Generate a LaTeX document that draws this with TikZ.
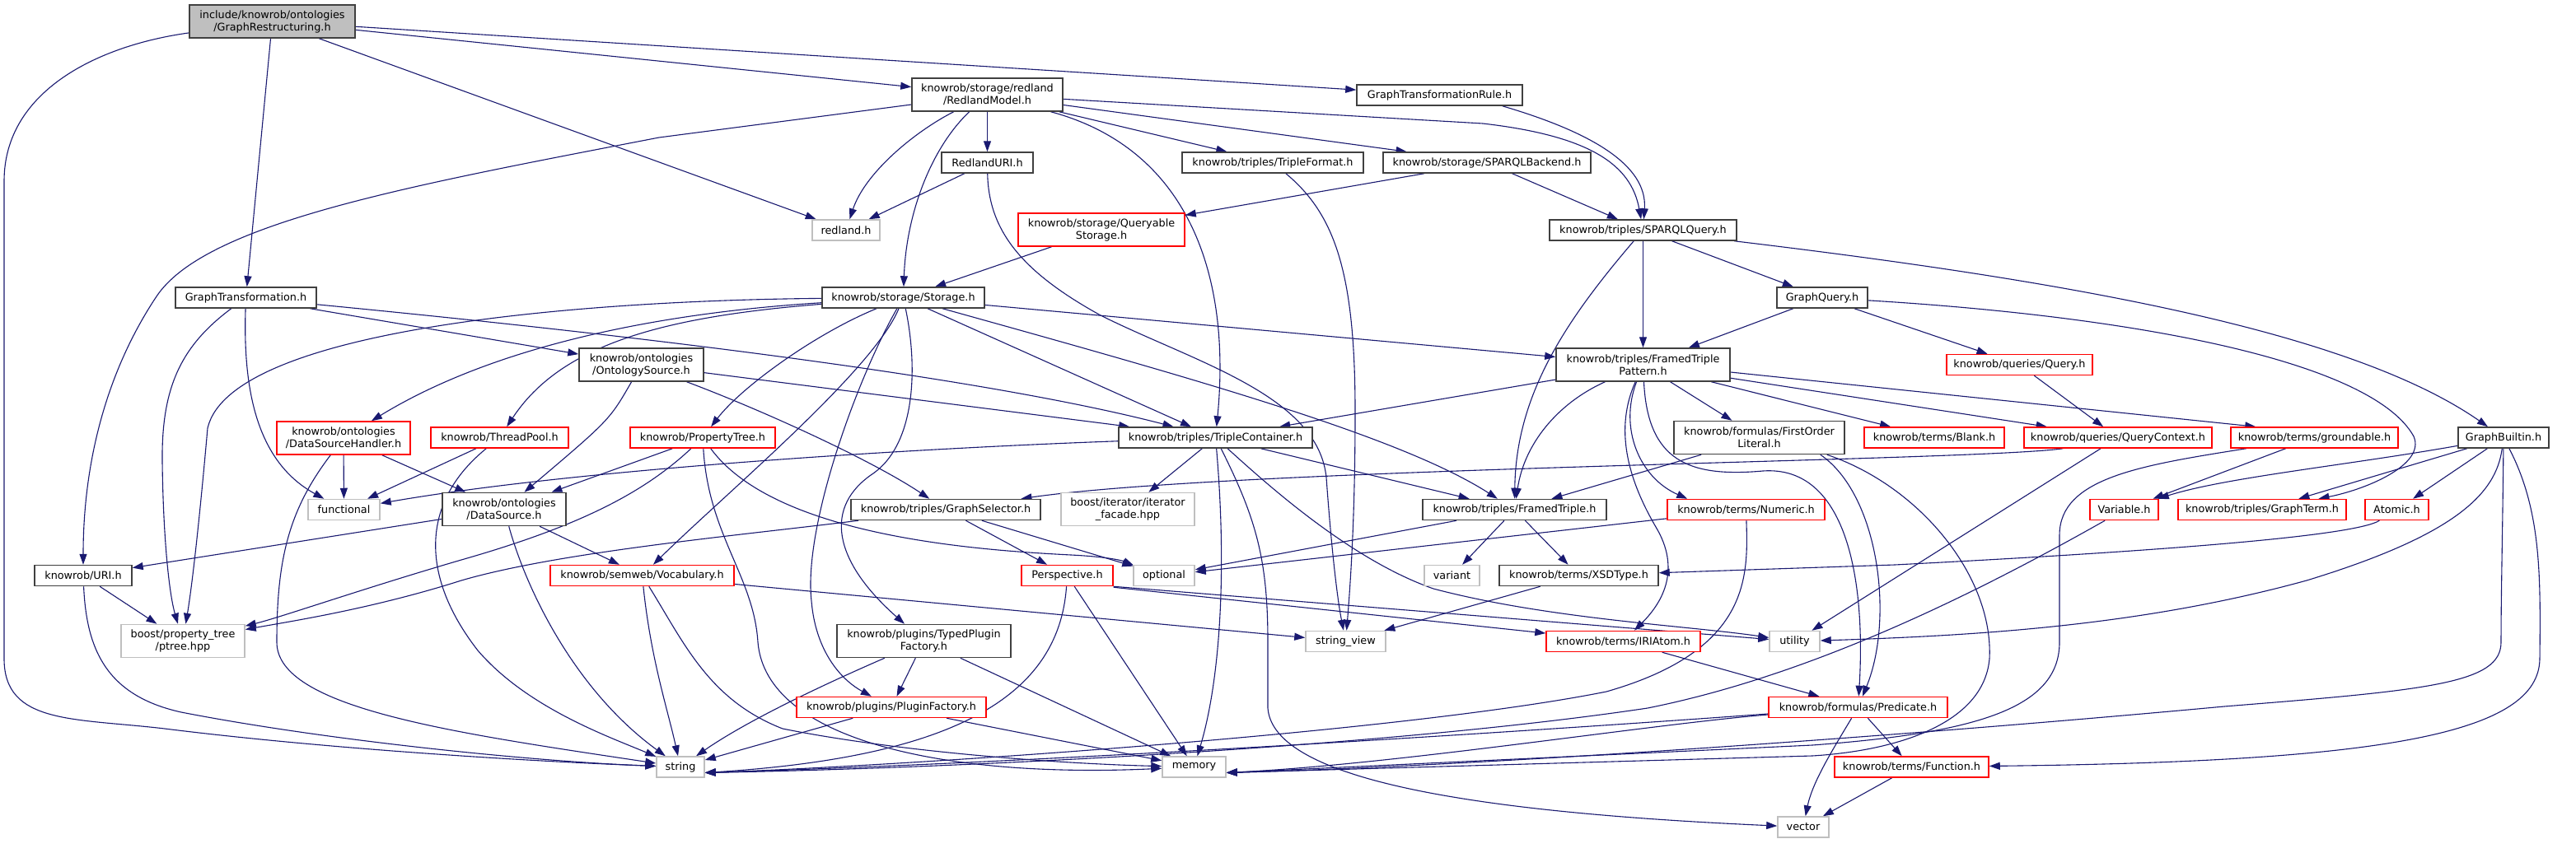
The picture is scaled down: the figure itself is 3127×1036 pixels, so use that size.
\documentclass[tikz,border=0pt]{standalone}
\usepackage{fontspec}
\setmainfont{DejaVu Sans}
\usetikzlibrary{arrows.meta,calc}
\definecolor{edgeblue}{HTML}{191970}
\definecolor{boxblack}{HTML}{404040}
\definecolor{boxgray}{HTML}{BFBFBF}
\definecolor{boxred}{HTML}{FF0000}
\pgfdeclarelayer{paper}
\pgfdeclarelayer{background}
\pgfsetlayers{paper,background,main}
\begin{document}
\begin{tikzpicture}[x=1pt,y=-1pt,
  box/.style={draw=boxblack, line width=1.5pt, fill=white, inner sep=0pt, minimum height=25pt, align=center, font={\fontsize{12.8}{15}\selectfont}, text=black},
  rbox/.style={box, draw=boxred},
  gbox/.style={box, draw=boxgray},
  rootbox/.style={box, fill=boxgray},
  tall/.style={minimum height=40pt},
  link/.style={draw=edgeblue, line width=1.1pt, -{Triangle[length=13pt,width=9pt]}}]
\begin{pgfonlayer}{paper}
\fill[white] (0,0) rectangle (3127,1036);
\end{pgfonlayer}
\useasboundingbox (0,0) rectangle (3127,1036);
% nodes
\node[rootbox,tall,minimum width=201pt] (root) at (330.5,26) {include/knowrob/ontologies\\/GraphRestructuring.h};
\node[box,tall,minimum width=183pt] (rm) at (1198.5,115) {knowrob/storage/redland\\/RedlandModel.h};
\node[box,minimum width=201pt] (gtr) at (1747.5,115.5) {GraphTransformationRule.h};
\node[box,minimum width=111pt] (ruri) at (1198.5,197.5) {RedlandURI.h};
\node[box,minimum width=220pt] (tf) at (1545,197.5) {knowrob/triples/TripleFormat.h};
\node[box,minimum width=252pt] (sb) at (1805,197.5) {knowrob/storage/SPARQLBackend.h};
\node[gbox,minimum width=82pt] (redland) at (1027,279.5) {redland.h};
\node[rbox,tall,minimum width=202pt] (qs) at (1337,279) {knowrob/storage/Queryable\\Storage.h};
\node[box,minimum width=227pt] (sq) at (1994.5,279.5) {knowrob/triples/SPARQLQuery.h};
\node[box,minimum width=171pt] (gt) at (298.5,361.5) {GraphTransformation.h};
\node[box,minimum width=197pt] (st) at (1096.5,361.5) {knowrob/storage/Storage.h};
\node[box,minimum width=110pt] (gq) at (2212,361.5) {GraphQuery.h};
\node[box,tall,minimum width=151pt] (os) at (778.5,443) {knowrob/ontologies\\/OntologySource.h};
\node[box,tall,minimum width=211pt] (ftp) at (1994.5,443) {knowrob/triples/FramedTriple\\Pattern.h};
\node[rbox,minimum width=177pt] (q) at (2451.5,443) {knowrob/queries/Query.h};
\node[rbox,tall,minimum width=162pt] (dsh) at (417,532) {knowrob/ontologies\\/DataSourceHandler.h};
\node[rbox,minimum width=167pt] (tp) at (606.5,531.5) {knowrob/ThreadPool.h};
\node[rbox,minimum width=176pt] (pt) at (853,531.5) {knowrob/PropertyTree.h};
\node[box,minimum width=235pt] (tc) at (1475.5,531.5) {knowrob/triples/TripleContainer.h};
\node[box,tall,minimum width=207pt] (fol) at (2135.5,531.5) {knowrob/formulas/FirstOrder\\Literal.h};
\node[rbox,minimum width=170pt] (blank) at (2348,531.5) {knowrob/terms/Blank.h};
\node[rbox,minimum width=228pt] (qc) at (2571,531.5) {knowrob/queries/QueryContext.h};
\node[rbox,minimum width=203pt] (gr) at (2809.5,531.5) {knowrob/terms/groundable.h};
\node[box,minimum width=110pt] (gb) at (3039,531.5) {GraphBuiltin.h};
\node[gbox,minimum width=87pt] (func) at (417.5,619) {functional};
\node[box,tall,minimum width=150pt] (ds) at (612,618.5) {knowrob/ontologies\\/DataSource.h};
\node[box,minimum width=230pt] (gs) at (1148,619) {knowrob/triples/GraphSelector.h};
\node[gbox,tall,minimum width=162pt] (itf) at (1369,618.5) {boost/iterator/iterator\\\_facade.hpp};
\node[box,minimum width=223pt] (ft) at (1838.5,619) {knowrob/triples/FramedTriple.h};
\node[rbox,minimum width=191pt] (num) at (2119.5,619) {knowrob/terms/Numeric.h};
\node[rbox,minimum width=83pt] (var) at (2578.5,619) {Variable.h};
\node[rbox,minimum width=204pt] (gterm) at (2746,619) {knowrob/triples/GraphTerm.h};
\node[rbox,minimum width=77pt] (atomic) at (2909.5,619) {Atomic.h};
\node[box,minimum width=118pt] (uri) at (101,699) {knowrob/URI.h};
\node[rbox,minimum width=223pt] (voc) at (779.5,699) {knowrob/semweb/Vocabulary.h};
\node[rbox,minimum width=111pt] (persp) at (1295.5,699) {Perspective.h};
\node[gbox,minimum width=74pt] (opt) at (1413,699) {optional};
\node[gbox,minimum width=67pt] (variant) at (1762.5,699) {variant};
\node[box,minimum width=193pt] (xsd) at (1916.5,699) {knowrob/terms/XSDType.h};
\node[gbox,tall,minimum width=150pt] (ptree) at (222,778.5) {boost/property\_tree\\/ptree.hpp};
\node[box,tall,minimum width=211pt] (tpf) at (1121.5,778.5) {knowrob/plugins/TypedPlugin\\Factory.h};
\node[gbox,minimum width=97pt] (sv) at (1633.5,779) {string\_view};
\node[rbox,minimum width=187pt] (iri) at (1970.5,779) {knowrob/terms/IRIAtom.h};
\node[gbox,minimum width=61pt] (util) at (2178.5,779) {utility};
\node[rbox,minimum width=230pt] (pf) at (1082,859) {knowrob/plugins/PluginFactory.h};
\node[rbox,minimum width=217pt] (pred) at (2255.5,859) {knowrob/formulas/Predicate.h};
\node[gbox,minimum width=58pt] (string) at (826,931.5) {string};
\node[gbox,minimum width=77pt] (memory) at (1449.5,931.5) {memory};
\node[rbox,minimum width=187pt] (funch) at (2320.5,931.5) {knowrob/terms/Function.h};
\node[gbox,minimum width=62pt] (vector) at (2189,1004.5) {vector};
\coordinate (memR) at ($(memory.east)+(0,7)$);
\coordinate (strR) at ($(string.east)+(0,7)$);
% edges
\begin{pgfonlayer}{background}
\draw[link] (root) .. controls (120,55) and (5,110) .. (5,220) -- (5,800) .. controls (5,880) and (90,872) .. (200,885) .. controls (400,910) and (650,925) .. (string);
\draw[link] (root) -- (gt);
\draw[link] (root) -- (redland);
\draw[link] (root) -- (rm);
\draw[link] (root) -- (gtr);
\draw[link] (rm) -- (800,167) .. controls (500,225) and (250,270) .. (190,360) .. controls (130,450) and (101,560) .. (uri);
\draw[link] (rm) .. controls (1110,160) and (1050,210) .. (redland);
\draw[link] (rm) .. controls (1130,180) and (1100,260) .. (st);
\draw[link] (rm) -- (ruri);
\draw[link] (rm) .. controls (1440,180) and (1495,330) .. (tc);
\draw[link] (rm) -- (tf);
\draw[link] (rm) -- (sb);
\draw[link] (rm) -- (1800,150) .. controls (1930,165) and (1980,200) .. (sq);
\draw[link] ($(gtr.south east)+(-25,0)$) .. controls (1930,160) and (2000,200) .. (sq);
\draw[link] (ruri) -- (redland);
\draw[link] (ruri) .. controls (1200,280) and (1240,330) .. (1336,383) .. controls (1450,440) and (1600,480) .. (1610,580) .. controls (1615,650) and (1622,720) .. (sv);
\draw[link] (tf) .. controls (1620,260) and (1645,330) .. (1645,500) .. controls (1645,620) and (1640,700) .. (sv);
\draw[link] (sb) -- (qs);
\draw[link] (sb) -- (sq);
\draw[link] (qs) -- (st);
\draw[link] (sq) -- (ftp);
\draw[link] (sq) -- (gq);
\draw[link] (sq) .. controls (2500,340) and (2850,400) .. (gb);
\draw[link] (sq) .. controls (1900,390) and (1840,480) .. (ft);
\draw[link] (gq) -- (ftp);
\draw[link] (gq) -- (q);
\draw[link] (gq) .. controls (2600,385) and (2880,440) .. (2930,530) .. controls (2945,565) and (2870,595) .. (gterm);
\draw[link] (q) -- (qc);
\draw[link] (gt) -- (os);
\draw[link] (gt) .. controls (800,410) and (1200,460) .. (tc);
\draw[link] (gt) .. controls (220,420) and (196,470) .. (197,560) .. controls (198,650) and (205,720) .. (ptree);
\draw[link] (gt) .. controls (295,470) and (310,560) .. (func);
\draw[link] (st) .. controls (700,365) and (280,400) .. (252,520) .. controls (245,600) and (235,700) .. (ptree);
\draw[link] (st) .. controls (800,380) and (600,420) .. (dsh);
\draw[link] (st) .. controls (800,385) and (680,420) .. (tp);
\draw[link] (st) .. controls (990,405) and (900,470) .. (pt);
\draw[link] (st) .. controls (1060,450) and (880,600) .. (voc);
\draw[link] (st) .. controls (1040,460) and (975,640) .. (985,730) .. controls (990,790) and (1020,825) .. (pf);
\draw[link] (st) .. controls (1115,450) and (1110,540) .. (1060,575) .. controls (1000,615) and (1010,680) .. (tpf);
\draw[link] (st) -- (tc);
\draw[link] (st) .. controls (1450,460) and (1700,530) .. (ft);
\draw[link] (st) -- (ftp);
\draw[link] (os) -- (tc);
\draw[link] (os) .. controls (740,510) .. (ds);
\draw[link] (os) .. controls (930,500) and (1060,560) .. (gs);
\draw[link] (dsh) -- (func);
\draw[link] (dsh) -- (ds);
\draw[link] (dsh) .. controls (350,620) and (336,680) .. (336,780) .. controls (336,860) and (550,890) .. (string);
\draw[link] (tp) -- (func);
\draw[link] (tp) .. controls (510,610) and (510,700) .. (580,790) .. controls (640,860) and (740,895) .. (string);
\draw[link] (pt) -- (ds);
\draw[link] (pt) .. controls (780,600) and (700,640) .. (560,680) .. controls (440,715) and (340,750) .. (ptree);
\draw[link] (pt) .. controls (860,650) and (915,700) .. (920,780) .. controls (930,900) and (1150,945) .. (memory);
\draw[link] (pt) .. controls (940,650) and (1180,668) .. (1300,674) .. controls (1340,676) and (1360,680) .. ($(opt.north west)+(1,1)$);
\draw[link] (tc) .. controls (1100,545) and (700,570) .. (func);
\draw[link] (tc) -- (itf);
\draw[link] (tc) .. controls (1490,700) and (1480,830) .. (memory);
\draw[link] (tc) .. controls (1525,630) and (1539,680) .. (1539,780) -- (1539,860) .. controls (1545,940) and (1750,985) .. (vector);
\draw[link] (tc) -- (ft);
\draw[link] (tc) .. controls (1540,590) and (1640,680) .. (1740,715) .. controls (1880,752) and (2050,760) .. (util);
\draw[link] (ftp) -- (tc);
\draw[link] (ftp) .. controls (1890,490) and (1850,540) .. (ft);
\draw[link] (ftp) -- (fol);
\draw[link] (ftp) -- (blank);
\draw[link] (ftp) -- (qc);
\draw[link] ($(ftp.east)+(0,9)$) -- ($(gr.north west)+(31,0)$);
\draw[link] (ftp) .. controls (1960,520) and (1975,580) .. (2010,640) .. controls (2040,690) and (2020,730) .. (iri);
\draw[link] (ftp) .. controls (1965,520) and (1990,580) .. ($(num.north west)+(25,0)$);
\draw[link] (ftp) .. controls (2000,560) and (2050,580) .. (2140,572) .. controls (2240,565) and (2265,700) .. (pred);
\draw[link] (fol) -- (ft);
\draw[link] ($(fol.south east)+(-30,0)$) .. controls (2280,600) and (2300,750) .. (pred);
\draw[link] ($(fol.south east)+(-22,0)$) .. controls (2330,590) and (2420,700) .. (2415,800) .. controls (2408,880) and (2300,912) .. (2200,918) -- (memR);
\draw[link] (iri) -- (pred);
\draw[link] (num) -- (opt);
\draw[link] (num) .. controls (2122,700) and (2125,790) .. (1950,840) .. controls (1700,890) and (1100,930) .. (strR);
\draw[link] (ft) -- (variant);
\draw[link] (ft) -- (xsd);
\draw[link] (ft) -- (opt);
\draw[link] (xsd) -- (sv);
\draw[link] (gs) .. controls (900,650) and (680,670) .. (560,705) .. controls (450,740) and (350,755) .. (ptree);
\draw[link] (gs) -- (persp);
\draw[link] (gs) -- (opt);
\draw[link] (persp) .. controls (1285,850) and (1150,920) .. (strR);
\draw[link] (persp) -- (memory);
\draw[link] (persp.south east) -- (util);
\draw[link] ($(persp.south east)+(0,1)$) -- (iri);
\draw[link] (voc) -- (sv);
\draw[link] (voc) .. controls (790,800) and (810,860) .. (string);
\draw[link] (voc) .. controls (830,780) and (860,850) .. (950,885) .. controls (1100,915) and (1300,928) .. (memory);
\draw[link] (ds) -- (uri);
\draw[link] (ds) -- (voc);
\draw[link] (ds) .. controls (640,720) and (700,840) .. (string);
\draw[link] (uri) -- (ptree);
\draw[link] (uri) .. controls (105,790) and (130,845) .. (220,865) .. controls (400,900) and (650,925) .. (string);
\draw[link] (tpf) .. controls (980,840) and (900,880) .. (string);
\draw[link] (tpf) -- (pf);
\draw[link] (tpf) -- (memory);
\draw[link] (pf) -- (string);
\draw[link] (pf) -- (memory);
\draw[link] (pred) .. controls (2225,910) and (2200,950) .. (vector);
\draw[link] (pred) -- (funch);
\draw[link] (pred) .. controls (1900,885) and (1300,925) .. (strR);
\draw[link] (pred) .. controls (2000,880) and (1700,928) .. (memR);
\draw[link] (funch) -- (vector);
\draw[link] ($(qc.south west)+(48,0)$) .. controls (2400,560) and (1500,568) .. (gs);
\draw[link] (qc) -- (util);
\draw[link] (gr) -- (var);
\draw[link] (gr) .. controls (2600,565) and (2500,580) .. (2500,650) -- (2500,780) .. controls (2500,860) and (2400,890) .. (2200,905) -- (memR);
\draw[link] (var) .. controls (2400,720) and (2200,820) .. (2000,860) .. controls (1700,905) and (1200,932) .. (strR);
\draw[link] (gb) .. controls (2850,565) and (2700,580) .. (var);
\draw[link] (gb) -- (gterm);
\draw[link] (gb) -- (atomic);
\draw[link] (gb) .. controls (3030,600) and (2980,650) .. (2800,705) .. controls (2600,760) and (2400,772) .. (util);
\draw[link] (gb) .. controls (3038,640) and (3036,720) .. (3036,780) .. controls (3036,830) and (2950,838) .. (2700,858) .. controls (2300,895) and (1800,930) .. (memR);
\draw[link] (gb) .. controls (3085,620) and (3084,700) .. (3083,800) .. controls (3082,890) and (2900,925) .. (funch);
\draw[link] (atomic) .. controls (2860,650) and (2650,668) .. (2300,686) -- (xsd);
\end{pgfonlayer}
\end{tikzpicture}
\end{document}
